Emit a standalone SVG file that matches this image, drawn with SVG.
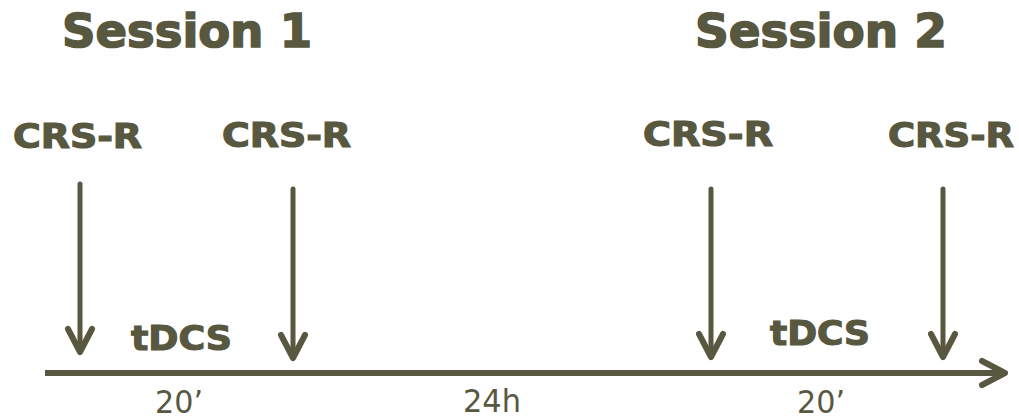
<svg xmlns="http://www.w3.org/2000/svg" width="1019" height="420" viewBox="0 0 1019 420">
  <style>
    .title { font-family: "DejaVu Sans", Verdana, sans-serif; font-weight: bold; font-size: 46px; fill: #58573f; stroke: #58573f; stroke-width: 1.6px; }
    .lbl { font-family: "DejaVu Sans", Verdana, sans-serif; font-weight: bold; font-size: 34px; fill: #58573f; stroke: #58573f; stroke-width: 1.2px; }
    .dur { font-family: "DejaVu Sans", Verdana, sans-serif; font-size: 32px; fill: #58573f; }
    .line { stroke: #58573f; stroke-width: 5; fill: none; stroke-linecap: round; stroke-linejoin: round; }
    .axis { stroke: #58573f; stroke-width: 6; fill: none; stroke-linecap: butt; }
    .head { stroke: #58573f; stroke-width: 6; fill: none; stroke-linecap: round; stroke-linejoin: round; }
  </style>
  <rect width="1019" height="420" fill="#ffffff"/>

  <g id="session1"><text class="title" x="62" y="47" textLength="250" lengthAdjust="spacingAndGlyphs">Session 1</text></g>
  <g id="session2"><text class="title" x="695" y="47" textLength="252" lengthAdjust="spacingAndGlyphs">Session 2</text></g>

  <g id="crsr1"><text class="lbl" x="13" y="148" textLength="129" lengthAdjust="spacingAndGlyphs">CRS-R</text></g>
  <g id="crsr2"><text class="lbl" x="222" y="147" textLength="129" lengthAdjust="spacingAndGlyphs">CRS-R</text></g>
  <g id="crsr3"><text class="lbl" x="643" y="146" textLength="130" lengthAdjust="spacingAndGlyphs">CRS-R</text></g>
  <g id="crsr4"><text class="lbl" x="888" y="147" textLength="126" lengthAdjust="spacingAndGlyphs">CRS-R</text></g>

  <g id="tdcs1"><text class="lbl" x="131" y="350" textLength="101" lengthAdjust="spacingAndGlyphs">tDCS</text></g>
  <g id="tdcs2"><text class="lbl" x="770" y="345" textLength="100" lengthAdjust="spacingAndGlyphs">tDCS</text></g>

  <g id="dur1"><text class="dur" x="155" y="413" textLength="48" lengthAdjust="spacingAndGlyphs">20’</text></g>
  <g id="gap"><text class="dur" x="463" y="412" textLength="58" lengthAdjust="spacingAndGlyphs">24h</text></g>
  <g id="dur2"><text class="dur" x="797" y="413" textLength="48" lengthAdjust="spacingAndGlyphs">20’</text></g>

  <g id="connectors">
    <!-- time axis -->
    <line class="axis" x1="45" y1="373" x2="1004" y2="373"/>
    <polyline class="head" points="982,361 1005,373 982,385"/>
    <!-- measurement arrows -->
    <line class="line" x1="80" y1="184" x2="80" y2="351"/>
    <polyline class="head" points="68,329 80,352 92,329"/>
    <line class="line" x1="293" y1="189" x2="293" y2="357"/>
    <polyline class="head" points="281,335 293,358 305,335"/>
    <line class="line" x1="711" y1="189" x2="711" y2="356"/>
    <polyline class="head" points="699,334 711,357 723,334"/>
    <line class="line" x1="943" y1="189" x2="943" y2="356"/>
    <polyline class="head" points="931,334 943,357 955,334"/>
  </g>
</svg>
